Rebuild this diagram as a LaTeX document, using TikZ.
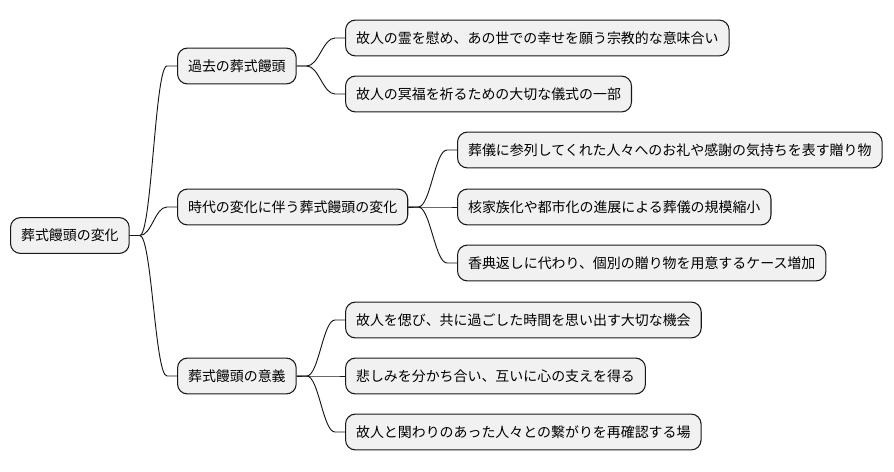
\documentclass[tikz,border=0pt]{standalone}
\usepackage{fontspec}
\setmainfont{Noto Sans CJK JP}
\usetikzlibrary{calc}
\definecolor{boxfill}{HTML}{F1F1F1}
\definecolor{boxline}{HTML}{181818}

\begin{document}
\begin{tikzpicture}[x=0.03cm,y=-0.03cm,
  topic/.style={draw=boxline, fill=boxfill, line width=0.9pt, rounded corners=8.5pt,
    anchor=west, minimum height=30.6pt, inner xsep=9pt, inner ysep=2pt,
    font=\fontsize{11.9}{14}\selectfont},
  link/.style={draw=boxline, line width=0.8pt}]
  \useasboundingbox (0,0) rectangle (894,471);

  % root and first level
  \node[topic] (root) at (10,235.5) {葬式饅頭の変化};
  \node[topic] (past) at (177,66) {過去の葬式饅頭};
  \node[topic] (change) at (177,207) {時代の変化に伴う葬式饅頭の変化};
  \node[topic] (meaning) at (177,376) {葬式饅頭の意義};

  % second level
  \node[topic] (past1) at (345,38) {故人の霊を慰め、あの世での幸せを願う宗教的な意味合い};
  \node[topic] (past2) at (345,94) {故人の冥福を祈るための大切な儀式の一部};

  \node[topic] (change1) at (457,150) {葬儀に参列してくれた人々へのお礼や感謝の気持ちを表す贈り物};
  \node[topic] (change2) at (457,207) {核家族化や都市化の進展による葬儀の規模縮小};
  \node[topic] (change3) at (457,263) {香典返しに代わり、個別の贈り物を用意するケース増加};

  \node[topic] (meaning1) at (345,320) {故人を偲び、共に過ごした時間を思い出す大切な機会};
  \node[topic] (meaning2) at (345,376) {悲しみを分かち合い、互いに心の支えを得る};
  \node[topic] (meaning3) at (345,432) {故人と関わりのあった人々との繋がりを再確認する場};

  % branches
  \foreach \a/\b in {root/past, root/change, root/meaning,
                     past/past1, past/past2,
                     change/change1, change/change2, change/change3,
                     meaning/meaning1, meaning/meaning2, meaning/meaning3}
    \draw[link] (\a.east) -- ++(10,0) .. controls +(12,0) and +(-12,0) .. ($(\b.west)+(-10,0)$) -- (\b.west);

\end{tikzpicture}
\end{document}
